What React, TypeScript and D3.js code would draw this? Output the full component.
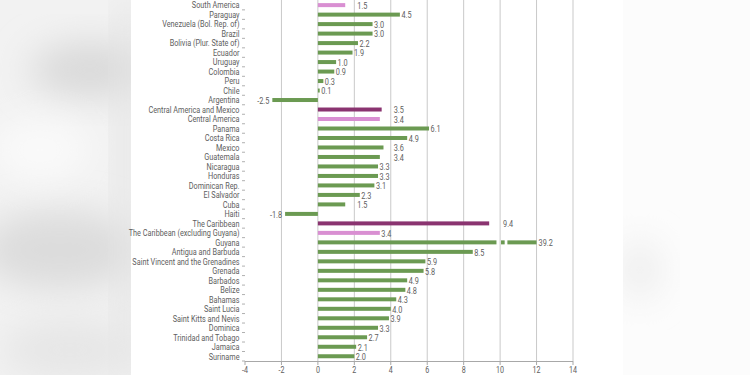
import React from "react";
import * as d3 from "d3";

const categories = [
  "South America", "Paraguay", "Venezuela (Bol. Rep. of)", "Brazil", "Bolivia (Plur. State of)",
  "Ecuador", "Uruguay", "Colombia", "Peru", "Chile", "Argentina",
  "Central America and Mexico", "Central America", "Panama", "Costa Rica", "Mexico", "Guatemala",
  "Nicaragua", "Honduras", "Dominican Rep.", "El Salvador", "Cuba", "Haiti",
  "The Caribbean", "The Caribbean (excluding Guyana)", "Guyana", "Antigua and Barbuda",
  "Saint Vincent and the Grenadines", "Grenada", "Barbados", "Belize", "Bahamas", "Saint Lucia",
  "Saint Kitts and Nevis", "Dominica", "Trinidad and Tobago", "Jamaica", "Suriname",
];

const values = [
  1.5, 4.5, 3.0, 3.0, 2.2, 1.9, 1.0, 0.9, 0.3, 0.1, -2.5,
  3.5, 3.4, 6.1, 4.9, 3.6, 3.4, 3.3, 3.3, 3.1, 2.3, 1.5, -1.8,
  9.4, 3.4, 39.2, 8.5, 5.9, 5.8, 4.9, 4.8, 4.3, 4.0, 3.9, 3.3, 2.7, 2.1, 2.0,
];

const regions = ["Central America and Mexico", "The Caribbean"];
const subregions = ["South America", "Central America", "The Caribbean (excluding Guyana)"];
const xTicks = [-4, -2, 0, 2, 4, 6, 8, 10, 12, 14];

const snapLabels = ["South America", "Central America and Mexico", "Central America", "Mexico", "Guatemala", "Cuba", "The Caribbean"];

const GREEN = "#6b9a52";
const PURPLE = "#8a3470";
const PINK = "#d98fd2";
const FONT = "Roboto, 'DejaVu Sans', sans-serif";
const SX = 0.81;

function Txt({ x, y, anchor = "start", size = 9, children }: { x: number; y: number; anchor?: string; size?: number; children: React.ReactNode }) {
  return (
    <text transform={`translate(${x},${y}) scale(${SX},1)`} dy="0.36em" fontSize={size} fill="#5e5e5e" textAnchor={anchor}>
      {children}
    </text>
  );
}

export default function App() {
  const W = 750, H = 375;
  const x = d3.scaleLinear().domain([-4, 14]).range([245, 573]);
  const rowH = 9.49;
  const bottom = 361;
  const y = d3.scaleBand<string>().domain(categories).range([bottom - categories.length * rowH, bottom]).padding(0);
  const bw = y.bandwidth();
  const barH = 4;
  const cap = 12;

  const colorOf = (c: string) => (regions.includes(c) ? PURPLE : subregions.includes(c) ? PINK : GREEN);

  return (
    <svg width={W} height={H} style={{ position: "absolute", left: 0, top: 0, background: "#fff" }} fontFamily={FONT}>
      <defs>
        <filter id="blur" x="-50%" y="-50%" width="200%" height="200%">
          <feGaussianBlur stdDeviation="18" />
        </filter>
        <clipPath id="leftclip"><rect x={0} y={0} width={131} height={H} /></clipPath>
        <clipPath id="rightclip"><rect x={623} y={0} width={127} height={H} /></clipPath>
      </defs>
      {/* background shading */}
      <g clipPath="url(#leftclip)">
        <rect x={0} y={0} width={131} height={H} fill="#f2f2f2" />
        <ellipse cx={90} cy={70} rx={60} ry={28} fill="#d9d9d9" filter="url(#blur)" />
        <ellipse cx={60} cy={250} rx={80} ry={40} fill="#dcdcdc" filter="url(#blur)" />
        <ellipse cx={40} cy={150} rx={50} ry={30} fill="#fafafa" filter="url(#blur)" />
        <rect x={118} y={0} width={20} height={H} fill="#e2e2e2" filter="url(#blur)" />
        <ellipse cx={70} cy={350} rx={70} ry={30} fill="#e6e6e6" filter="url(#blur)" />
      </g>
      <g clipPath="url(#rightclip)">
        <rect x={623} y={0} width={127} height={H} fill="#fcfcfc" />
        <ellipse cx={640} cy={270} rx={20} ry={30} fill="#ececec" filter="url(#blur)" />
      </g>

      {/* gridlines */}
      {xTicks.filter((t) => t > -4).map((t) => (
        <line key={"g" + t} x1={x(t)} x2={x(t)} y1={0} y2={bottom} stroke="#c9c9c9" strokeWidth={1} />
      ))}

      {/* y ticks at band boundaries */}
      {categories.map((c) => (
        <line key={"yt" + c} x1={242} x2={245} y1={(y(c) as number) + bw} y2={(y(c) as number) + bw} stroke="#b0b0b0" strokeWidth={1} />
      ))}

      {/* x axis */}
      <line x1={x(-4)} x2={x(14)} y1={bottom + 0.5} y2={bottom + 0.5} stroke="#a8a8a8" strokeWidth={1} />
      {xTicks.map((t) => (
        <g key={"xt" + t}>
          <line x1={x(t)} x2={x(t)} y1={bottom} y2={bottom + 4} stroke="#a8a8a8" strokeWidth={1} />
          <Txt x={x(t)} y={bottom + 8.5} anchor="middle" size={8.8}>{String(t)}</Txt>
        </g>
      ))}

      {/* bars */}
      {categories.map((c, i) => {
        const v = values[i];
        const cy = (y(c) as number) + bw / 2;
        const col = colorOf(c);
        if (v > cap) {
          const segs = [[0, 9.8], [10.05, 10.25], [10.4, cap]];
          return (
            <g key={"b" + c}>
              {segs.map(([a, b], k) => (
                <rect key={k} x={x(a)} y={cy - barH / 2} width={x(b) - x(a)} height={barH} fill={col} />
              ))}
            </g>
          );
        }
        const x0 = x(Math.min(0, v));
        const x1 = x(Math.max(0, v));
        return <rect key={"b" + c} x={x0} y={cy - barH / 2} width={Math.max(x1 - x0, 1.5)} height={barH} fill={col} />;
      })}

      {/* category labels */}
      {categories.map((c) => (
        <Txt key={"l" + c} x={239.5} y={(y(c) as number) + bw / 2} anchor="end">{c}</Txt>
      ))}

      {/* value labels */}
      {categories.map((c, i) => {
        const v = values[i];
        const cy = (y(c) as number) + bw / 2 + 0.5;
        let lx: number;
        let anchor = "start";
        if (v < 0) {
          lx = x(v) - 3;
          anchor = "end";
        } else if (v > cap) {
          lx = x(cap) + 2;
        } else if (snapLabels.includes(c)) {
          lx = x(Math.ceil(v / 2) * 2) + 3;
        } else {
          lx = x(v) + 1.5;
        }
        return (
          <Txt key={"v" + c} x={lx} y={cy} anchor={anchor}>{v.toFixed(1)}</Txt>
        );
      })}
    </svg>
  );
}
